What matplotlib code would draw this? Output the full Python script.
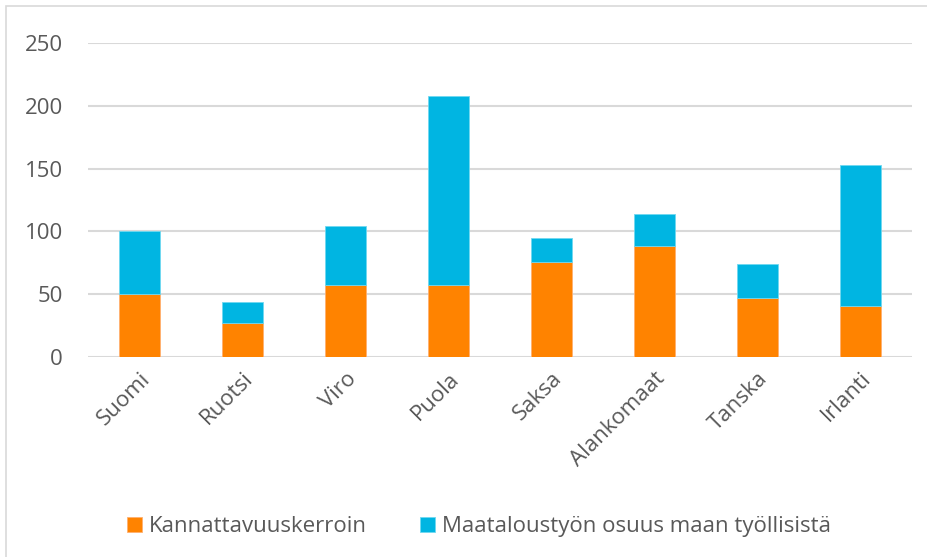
import matplotlib.pyplot as plt
import numpy as np

# Data
countries = ["Suomi", "Ruotsi", "Viro", "Puola", "Saksa", "Alankomaat", "Tanska", "Irlanti"]
kannattavuus = [50, 27, 57, 57, 76, 88, 47, 41]
maatalous = [50, 17, 47, 151, 19, 26, 27, 112]
yticks = [0, 50, 100, 150, 200, 250]

ORANGE = "#FF8300"
BLUE = "#00B5E2"
TEXT = "#595959"
GRID = "#D9D9D9"
FS = 16

plt.rcParams["font.family"] = ["Open Sans", "DejaVu Sans"]

fig = plt.figure(figsize=(9.28, 5.57), dpi=100)
ax = fig.add_axes([88 / 928, 200 / 557, 824 / 928, 314 / 557])

x = np.arange(len(countries))
ax.bar(x, kannattavuus, width=0.4, color=ORANGE, edgecolor="#FFB070", linewidth=0.6,
       label="Kannattavuuskerroin", zorder=3)
ax.bar(x, maatalous, width=0.4, bottom=kannattavuus, color=BLUE, edgecolor="#70D8F0",
       linewidth=0.6, label="Maataloustyön osuus maan työllisistä", zorder=3)

ax.set_xlim(-0.5, len(countries) - 0.5)
ax.set_ylim(0, 250)
ax.set_yticks(yticks)
ax.yaxis.grid(True, color=GRID, linewidth=1.5, zorder=0)
ax.set_axisbelow(True)
for s in ax.spines.values():
    s.set_visible(False)
ax.tick_params(axis="both", length=0, colors=TEXT, labelsize=FS)
ax.tick_params(axis="y", pad=18)
ax.set_xticks(x)
ax.set_xticklabels(countries, rotation=45, ha="right", rotation_mode="anchor")
ax.tick_params(axis="x", pad=8)

fig.legend(loc="center", bbox_to_anchor=(0.516, 0.054), ncol=2, frameon=False,
           fontsize=FS, labelcolor=TEXT, handlelength=0.68, handleheight=0.68,
           handletextpad=0.3, columnspacing=2.4)

# light border around the chart area
fig.add_artist(plt.Rectangle((0.007, -0.01), 1.0, 1.0, transform=fig.transFigure,
                             fill=False, edgecolor="#D9D9D9", linewidth=1.2))

fig.savefig("out.png", dpi=100)
